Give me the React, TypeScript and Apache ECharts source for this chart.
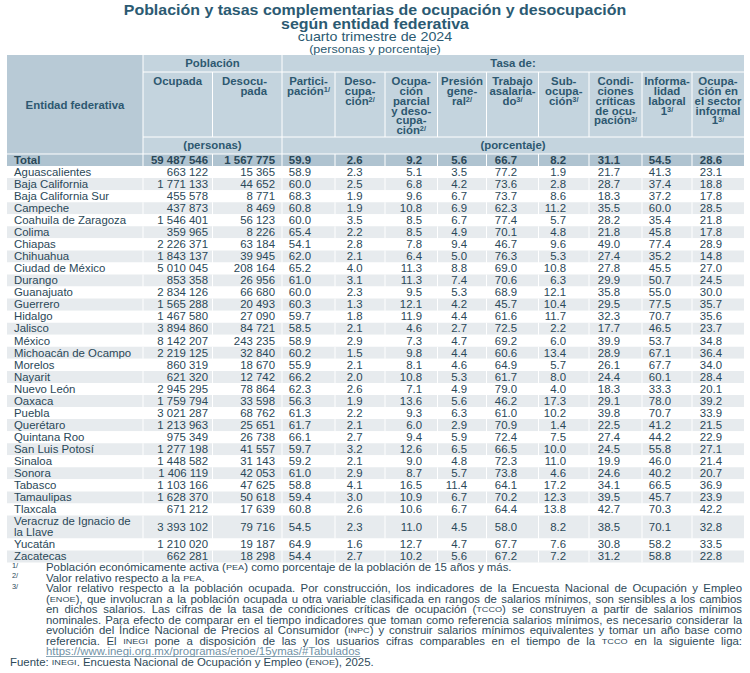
import React, { useEffect, useRef } from "react";
import * as echarts from "echarts";

// ---------------- data ----------------
const entidades = [
  "Total", "Aguascalientes", "Baja California", "Baja California Sur", "Campeche",
  "Coahuila de Zaragoza", "Colima", "Chiapas", "Chihuahua", "Ciudad de México",
  "Durango", "Guanajuato", "Guerrero", "Hidalgo", "Jalisco", "México",
  "Michoacán de Ocampo", "Morelos", "Nayarit", "Nuevo León", "Oaxaca", "Puebla",
  "Querétaro", "Quintana Roo", "San Luis Potosí", "Sinaloa", "Sonora", "Tabasco",
  "Tamaulipas", "Tlaxcala", "Veracruz de Ignacio de la Llave", "Yucatán", "Zacatecas",
];
const ocupada = [
  59487546, 663122, 1771133, 455578, 437873, 1546401, 359965, 2226371, 1843137, 5010045,
  853358, 2834126, 1565288, 1467580, 3894860, 8142207, 2219125, 860319, 621320, 2945295,
  1759794, 3021287, 1213963, 975349, 1277198, 1448582, 1406119, 1103166, 1628370, 671212,
  3393102, 1210020, 662281,
];
const desocupada = [
  1567775, 15365, 44652, 8771, 8469, 56123, 8226, 63184, 39945, 208164,
  26956, 66680, 20493, 27090, 84721, 243235, 32840, 18670, 12742, 78864,
  33598, 68762, 25651, 26738, 41557, 31143, 42053, 47625, 50618, 17639,
  79716, 19187, 18298,
];
const tasaParticipacion = [
  59.9, 58.9, 60.0, 68.3, 60.8, 60.0, 65.4, 54.1, 62.0, 65.2, 61.0, 60.0, 60.3, 59.7, 58.5, 58.9,
  60.2, 55.9, 66.2, 62.3, 56.3, 61.3, 61.7, 66.1, 59.7, 59.2, 61.0, 58.8, 59.4, 60.8, 54.5, 64.9, 54.4,
];
const tasaDesocupacion = [
  2.6, 2.3, 2.5, 1.9, 1.9, 3.5, 2.2, 2.8, 2.1, 4.0, 3.1, 2.3, 1.3, 1.8, 2.1, 2.9,
  1.5, 2.1, 2.0, 2.6, 1.9, 2.2, 2.1, 2.7, 3.2, 2.1, 2.9, 4.1, 3.0, 2.6, 2.3, 1.6, 2.7,
];
const tasaOcupacionParcial = [
  9.2, 5.1, 6.8, 9.6, 10.8, 8.5, 8.5, 7.8, 6.4, 11.3, 11.3, 9.5, 12.1, 11.9, 4.6, 7.3,
  9.8, 8.1, 10.8, 7.1, 13.6, 9.3, 6.0, 9.4, 12.6, 9.0, 8.7, 16.5, 10.9, 10.6, 11.0, 12.7, 10.2,
];
const tasaPresionGeneral = [
  5.6, 3.5, 4.2, 6.7, 6.9, 6.7, 4.9, 9.4, 5.0, 8.8, 7.4, 5.3, 4.2, 4.4, 2.7, 4.7,
  4.4, 4.6, 5.3, 4.9, 5.6, 6.3, 2.9, 5.9, 6.5, 4.8, 5.7, 11.4, 6.7, 6.7, 4.5, 4.7, 5.6,
];
const tasaTrabajoAsalariado = [
  66.7, 77.2, 73.6, 73.7, 62.3, 77.4, 70.1, 46.7, 76.3, 69.0, 70.6, 68.9, 45.7, 61.6, 72.5, 69.2,
  60.6, 64.9, 61.7, 79.0, 46.2, 61.0, 70.9, 72.4, 66.5, 72.3, 73.8, 64.1, 70.2, 64.4, 58.0, 67.7, 67.2,
];
const tasaSubocupacion = [
  8.2, 1.9, 2.8, 8.6, 11.2, 5.7, 4.8, 9.6, 5.3, 10.8, 6.3, 12.1, 10.4, 11.7, 2.2, 6.0,
  13.4, 5.7, 8.0, 4.0, 17.3, 10.2, 1.4, 7.5, 10.0, 11.0, 4.6, 17.2, 12.3, 13.8, 8.2, 7.6, 7.2,
];
const tasaCondicionesCriticas = [
  31.1, 21.7, 28.7, 18.3, 35.5, 28.2, 21.8, 49.0, 27.4, 27.8, 29.9, 35.8, 29.5, 32.3, 17.7, 39.9,
  28.9, 26.1, 24.4, 18.3, 29.1, 39.8, 22.5, 27.4, 24.5, 19.9, 24.6, 34.1, 39.5, 42.7, 38.5, 30.8, 31.2,
];
const tasaInformalidad = [
  54.5, 41.3, 37.4, 37.2, 60.0, 35.4, 45.8, 77.4, 35.2, 45.5, 50.7, 55.0, 77.5, 70.7, 46.5, 53.7,
  67.1, 67.7, 60.1, 33.3, 78.0, 70.7, 41.2, 44.2, 55.8, 46.0, 40.2, 66.5, 45.7, 70.3, 70.1, 58.2, 58.8,
];
const tasaSectorInformal = [
  28.6, 23.1, 18.8, 17.8, 28.5, 21.8, 17.8, 28.9, 14.8, 27.0, 24.5, 30.0, 35.7, 35.6, 23.7, 34.8,
  36.4, 34.0, 28.4, 20.1, 39.2, 33.9, 21.5, 22.9, 27.1, 21.4, 20.7, 36.9, 23.9, 42.2, 32.8, 33.5, 22.8,
];

const tituloLineas = [
  "Población y tasas complementarias de ocupación y desocupación",
  "según entidad federativa",
];
const subtitulo = "cuarto trimestre de 2024";
const unidadesTitulo = "(personas y porcentaje)";
const encabezadoEntidad = "Entidad federativa";
const encabezadoGrupos = ["Población", "Tasa de:"];
const encabezadoUnidades = ["(personas)", "(porcentaje)"];
const encabezadoColumnas = [
  "Ocupada",
  "Desocu-\npada",
  "Partici-\npación{sup|1/}",
  "Deso-\ncupa-\nción{sup|2/}",
  "Ocupa-\nción\nparcial\ny deso-\ncupa-\nción{sup|2/}",
  "Presión\ngene-\nral{sup|2/}",
  "Trabajo\nasalaria-\ndo{sup|3/}",
  "Sub-\nocupa-\nción{sup|3/}",
  "Condi-\nciones\ncríticas\nde ocu-\npación{sup|3/}",
  "Informa-\nlidad\nlaboral\n1{sup|3/}",
  "Ocupa-\nción en\nel sector\ninformal\n1{sup|3/}",
];
const notasLineas = [
  { marca: "1/", texto: "Población económicamente activa (PEA) como porcentaje de la población de 15 años y más.", tipo: "normal" },
  { marca: "2/", texto: "Valor relativo respecto a la PEA.", tipo: "normal" },
  { marca: "3/", texto: "Valor relativo respecto a la población ocupada. Por construcción, los indicadores de la Encuesta Nacional de Ocupación y Empleo", tipo: "just" },
  { marca: "", texto: "(ENOE), que involucran a la población ocupada u otra variable clasificada en rangos de salarios mínimos, son sensibles a los cambios", tipo: "just" },
  { marca: "", texto: "en dichos salarios. Las cifras de la tasa de condiciones críticas de ocupación (TCCO) se construyen a partir de salarios mínimos", tipo: "just" },
  { marca: "", texto: "nominales. Para efecto de comparar en el tiempo indicadores que toman como referencia salarios mínimos, es necesario considerar la", tipo: "just" },
  { marca: "", texto: "evolución del Índice Nacional de Precios al Consumidor (INPC) y construir salarios mínimos equivalentes y tomar un año base como", tipo: "just" },
  { marca: "", texto: "referencia. El INEGI pone a disposición de las y los usuarios cifras comparables en el tiempo de la TCCO en la siguiente liga:", tipo: "just" },
  { marca: "", texto: "https://www.inegi.org.mx/programas/enoe/15ymas/#Tabulados", tipo: "link" },
  { marca: "", texto: "Fuente: INEGI. Encuesta Nacional de Ocupación y Empleo (ENOE), 2025.", tipo: "fuente" },
];

// ---------------- layout / style ----------------
const FONT = '"Liberation Sans", Arial, Helvetica, sans-serif';
const SX = 1.14;
const FS = 10;
const NOTE_FS = 10;
const SC_FS = 8;
const C = {
  title: "#2b5a72",
  head: "#2d5870",
  text: "#2a4858",
  note: "#2e4a59",
  headBg: "#c4d4de",
  entBg: "#b8cad6",
  totalBg: "#afc3d0",
  alt: "#e7ebee",
  link: "#7091a5",
};
const TABLE_X = 7;
const COL_W = [136, 69.5, 69.5, 53, 50, 52.5, 49, 52, 50.5, 53, 50, 52];
const NUM_PAD = [4.5, 7, 24, 22.5, 15.5, 19.5, 21.5, 23, 22, 21, 22];
const NAME_PAD = 7;
const HEAD_TOP = 55;
const HEAD_GROUP_B = 72;
const HEAD_COL_B = 137;
const BODY_TOP = 154;
const ROW_H = 12.05;
const TWO_LINE = 1.9;
const NOTE_TOP = 567.5;
const NOTE_STEP = 10.5;
const NOTE_X = 46;
const NOTE_RIGHT = 742;
const SC_RE = /(PEA|ENOE|TCCO|INPC|INEGI)/;

const offsets = COL_W.reduce((acc: number[], w) => { acc.push(acc[acc.length - 1] + w); return acc; }, [0]);
const edges = offsets.map((o) => TABLE_X + o);
const TABLE_W = offsets[offsets.length - 1];

const fmtInt = (n: number) => String(n).replace(/\B(?=(\d{3})+(?!\d))/g, " ");

const txt = (x: number, y: number, text: string, align: string, opts: any = {}) => ({
  type: "text",
  x,
  y,
  scaleX: opts.scaleX ?? SX,
  silent: true,
  style: {
    text,
    x: 0,
    y: 0,
    fill: opts.fill ?? C.text,
    fontSize: opts.fontSize ?? FS,
    fontFamily: FONT,
    fontWeight: opts.bold ? "bold" : "normal",
    align,
    textAlign: align,
    verticalAlign: opts.va ?? "middle",
    textVerticalAlign: opts.va ?? "middle",
    lineHeight: opts.lineHeight ?? 11,
    rich: opts.rich,
  },
});

export default function App() {
  const ref = useRef<HTMLDivElement>(null);

  useEffect(() => {
    const el = ref.current;
    if (!el) return;
    const chart = echarts.init(el, null, { renderer: "svg" });

    const canvas = document.createElement("canvas");
    const ctx = canvas.getContext("2d") as CanvasRenderingContext2D;
    const medir = (t: string, size: number, weight = "normal") => {
      ctx.font = `${weight} ${size}px "Liberation Sans"`;
      return ctx.measureText(t).width;
    };

    // entity names, wrapped if too wide
    const nameMax = COL_W[0] - NAME_PAD - 4;
    const nombreLineas = entidades.map((n, i) => {
      const w = i === 0 ? "bold" : "normal";
      const lines: string[] = [];
      let cur = "";
      for (const wd of n.split(" ")) {
        const t = cur ? cur + " " + wd : wd;
        if (cur && medir(t, FS, w) * SX > nameMax) { lines.push(cur); cur = wd; } else cur = t;
      }
      lines.push(cur);
      return lines;
    });
    let acc = 0;
    const filas = nombreLineas.map((l, i) => {
      const s = acc;
      acc += l.length > 1 ? TWO_LINE : 1;
      return [0.5, s, acc, i];
    });
    const totalUnits = acc;

    const valores = [
      ocupada, desocupada, tasaParticipacion, tasaDesocupacion, tasaOcupacionParcial,
      tasaPresionGeneral, tasaTrabajoAsalariado, tasaSubocupacion, tasaCondicionesCriticas,
      tasaInformalidad, tasaSectorInformal,
    ];

    const renderItem = (params: any, api: any) => {
      const i = api.value(3);
      const y0 = api.coord([0, api.value(1)])[1];
      const y1 = api.coord([0, api.value(2)])[1];
      const cs = params.coordSys;
      const xs = offsets.map((o) => cs.x + o);
      const yMid = (y0 + y1) / 2;
      const bold = i === 0;
      const fill = i === 0 ? C.totalBg : i % 2 === 0 ? C.alt : "#ffffff";
      const children: any[] = [
        { type: "rect", silent: true, shape: { x: cs.x, y: y0, width: cs.width, height: y1 - y0 }, style: { fill } },
      ];
      for (let k = 1; k < xs.length - 1; k++) {
        children.push({ type: "line", silent: true, shape: { x1: xs[k], y1: y0, x2: xs[k], y2: y1 }, style: { stroke: "#ffffff", lineWidth: 1 } });
      }
      if (i === 0) {
        children.push({ type: "line", silent: true, shape: { x1: cs.x, y1: y0, x2: cs.x + cs.width, y2: y0 }, style: { stroke: "#ffffff", lineWidth: 1 } });
      }
      children.push(txt(xs[0] + NAME_PAD, yMid, nombreLineas[i].join("\n"), "left", { bold }));
      valores.forEach((arr, k) => {
        const v = arr[i];
        const s = k < 2 ? fmtInt(v) : v.toFixed(1);
        children.push(txt(xs[k + 2] - NUM_PAD[k], yMid, s, "right", { bold }));
      });
      return { type: "group", children };
    };

    // ----- graphic: titles, header, notes -----
    const g: any[] = [];
    tituloLineas.forEach((t, k) => {
      g.push(txt(375, 10 + k * 14, t, "center", { bold: true, fontSize: 14, fill: C.title, lineHeight: 16 }));
    });
    g.push(txt(375, 36.5, subtitulo, "center", { fontSize: 12.5, fill: C.title, lineHeight: 14 }));
    g.push(txt(375, 48.5, unidadesTitulo, "center", { fontSize: 11, fill: C.title, lineHeight: 13 }));

    g.push({ type: "rect", silent: true, shape: { x: edges[0], y: HEAD_TOP, width: TABLE_W, height: BODY_TOP - HEAD_TOP }, style: { fill: C.headBg } });
    g.push({ type: "rect", silent: true, shape: { x: edges[0], y: HEAD_TOP, width: COL_W[0], height: BODY_TOP - HEAD_TOP }, style: { fill: C.entBg } });
    const wline = (x1: number, y1: number, x2: number, y2: number) => ({
      type: "line", silent: true, shape: { x1, y1, x2, y2 }, style: { stroke: "#ffffff", lineWidth: 1 },
    });
    g.push(wline(edges[1], HEAD_TOP, edges[1], BODY_TOP));
    g.push(wline(edges[3], HEAD_TOP, edges[3], BODY_TOP));
    for (let k = 2; k < edges.length - 1; k++) {
      if (k === 3) continue;
      g.push(wline(edges[k], HEAD_GROUP_B, edges[k], HEAD_COL_B));
    }
    g.push(wline(edges[1], HEAD_GROUP_B, edges[edges.length - 1], HEAD_GROUP_B));
    g.push(wline(edges[1], HEAD_COL_B, edges[edges.length - 1], HEAD_COL_B));

    const hOpts = { bold: true, fill: C.head };
    g.push(txt((edges[0] + edges[1]) / 2, (HEAD_TOP + BODY_TOP) / 2 + 1, encabezadoEntidad, "center", hOpts));
    const gy = (HEAD_TOP + HEAD_GROUP_B) / 2;
    const uy = (HEAD_COL_B + BODY_TOP) / 2;
    const gx = [(edges[1] + edges[3]) / 2, (edges[3] + edges[edges.length - 1]) / 2];
    encabezadoGrupos.forEach((t, k) => g.push(txt(gx[k], gy, t, "center", hOpts)));
    encabezadoUnidades.forEach((t, k) => g.push(txt(gx[k], uy, t, "center", hOpts)));
    const supRich = {
      sup: { fontSize: 6.5, fontWeight: "bold", fontFamily: FONT, fill: C.head, verticalAlign: "top", lineHeight: 6.5 },
    };
    encabezadoColumnas.forEach((t, k) => {
      const right = k === 1;
      const x = right ? edges[k + 2] - 15 : (edges[k + 1] + edges[k + 2]) / 2;
      g.push(txt(x, 76.5, t, right ? "right" : "center", { ...hOpts, va: "top", lineHeight: 9.8, rich: supRich }));
    });

    // notes
    const toRich = (s: string) => s.split(SC_RE).map((seg, j) => (j % 2 ? `{sc|${seg}}` : seg)).join("");
    const widthOf = (s: string) =>
      s.split(SC_RE).reduce((a, seg, j) => a + medir(seg, j % 2 ? SC_FS : NOTE_FS), 0) * SX;
    const scRich = { sc: { fontSize: SC_FS, fontFamily: FONT, fill: C.note } };
    notasLineas.forEach((n, k) => {
      const y = NOTE_TOP + k * NOTE_STEP;
      if (n.marca) {
        g.push(txt(12, y - 2, n.marca, "left", { fontSize: 6.5, fill: C.note, lineHeight: 8 }));
      }
      const nOpts = { fontSize: NOTE_FS, fill: C.note, lineHeight: 11, rich: scRich };
      if (n.tipo === "just") {
        const words = n.texto.split(" ");
        const ws = words.map(widthOf);
        const sum = ws.reduce((a, b) => a + b, 0);
        const gap = (NOTE_RIGHT - NOTE_X - sum) / (words.length - 1);
        let x = NOTE_X;
        words.forEach((w, j) => {
          g.push(txt(x, y, toRich(w), "left", nOpts));
          x += ws[j] + gap;
        });
      } else if (n.tipo === "link") {
        g.push(txt(NOTE_X, y, n.texto, "left", { ...nOpts, fill: C.link }));
        const w = widthOf(n.texto);
        g.push({ type: "line", silent: true, shape: { x1: NOTE_X, y1: y + 5, x2: NOTE_X + w, y2: y + 5 }, style: { stroke: C.link, lineWidth: 0.8 } });
      } else if (n.tipo === "fuente") {
        g.push(txt(10, y, toRich(n.texto), "left", nOpts));
      } else {
        g.push(txt(NOTE_X, y, toRich(n.texto), "left", nOpts));
      }
    });

    chart.setOption({
      animation: false,
      backgroundColor: "#ffffff",
      grid: { left: TABLE_X, top: BODY_TOP, width: TABLE_W, height: totalUnits * ROW_H },
      xAxis: { type: "value", min: 0, max: 1, show: false },
      yAxis: { type: "value", min: 0, max: totalUnits, inverse: true, show: false },
      series: [
        {
          type: "custom",
          renderItem,
          data: filas,
          encode: { x: 0, y: [1, 2] },
          silent: true,
          clip: false,
        },
      ],
      graphic: { elements: g },
    });

    return () => chart.dispose();
  }, []);

  return (
    <div
      ref={ref}
      style={{ position: "fixed", left: 0, top: 0, width: 750, height: 673, background: "#ffffff" }}
    />
  );
}
